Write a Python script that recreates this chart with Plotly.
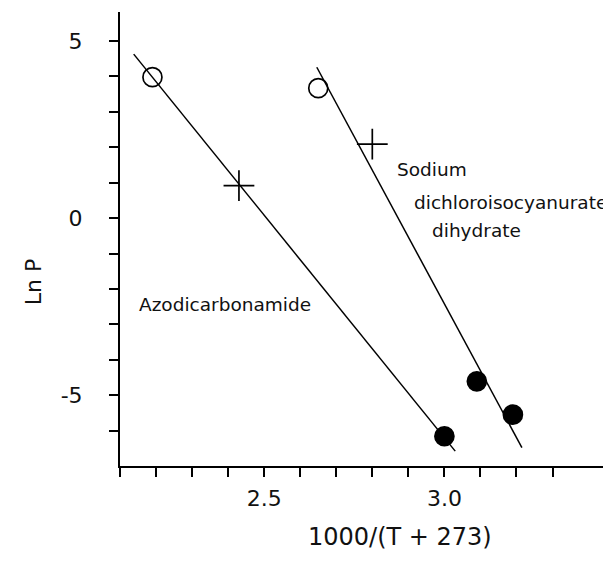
import plotly.graph_objects as go

# ---- data ----
azo_x = [2.19, 2.43, 3.00]
azo_y = [3.98, 0.92, -6.16]
azo_symbols = ["circle-open", "cross-thin-open", "circle"]

sod_x = [2.65, 2.80, 3.09, 3.19]
sod_y = [3.67, 2.09, -4.61, -5.55]
sod_symbols = ["circle-open", "cross-thin-open", "circle", "circle"]

azo_fit_x = [2.138, 3.030]
azo_fit_y = [4.63, -6.58]
sod_fit_x = [2.646, 3.215]
sod_fit_y = [4.26, -6.48]

x_tickvals = [2.1, 2.2, 2.3, 2.4, 2.5, 2.6, 2.7, 2.8, 2.9, 3.0, 3.1, 3.2, 3.3]
x_ticktext = ["", "", "", "", "2.5", "", "", "", "", "3.0", "", "", ""]
y_tickvals = [-6, -5, -4, -3, -2, -1, 0, 1, 2, 3, 4, 5]
y_ticktext = ["", "-5", "", "", "", "", "0", "", "", "", "", "5"]

FONT = "DejaVu Sans"

fig = go.Figure()

for fx, fy in [(azo_fit_x, azo_fit_y), (sod_fit_x, sod_fit_y)]:
    fig.add_trace(go.Scatter(x=fx, y=fy, mode="lines",
                             line=dict(color="black", width=1.5),
                             showlegend=False, hoverinfo="skip"))

for xs, ys, syms in [(azo_x, azo_y, azo_symbols), (sod_x, sod_y, sod_symbols)]:
    sizes = [22 if s.startswith("cross") else 19 for s in syms]
    fig.add_trace(go.Scatter(x=xs, y=ys, mode="markers",
                             marker=dict(symbol=syms, size=sizes, color="black", opacity=1,
                                         line=dict(color="black", width=1.7)),
                             showlegend=False))

ann_font = dict(family=FONT, size=18.5, color="#111")
fig.add_annotation(x=2.147, y=-2.45, text="Azodicarbonamide", showarrow=False,
                   xanchor="left", yanchor="middle", font=ann_font)
fig.add_annotation(x=2.863, y=1.36, text="Sodium", showarrow=False,
                   xanchor="left", yanchor="middle", font=ann_font)
fig.add_annotation(x=2.910, y=0.44, text="dichloroisocyanurate", showarrow=False,
                   xanchor="left", yanchor="middle", font=ann_font)
fig.add_annotation(x=2.960, y=-0.34, text="dihydrate", showarrow=False,
                   xanchor="left", yanchor="middle", font=ann_font)

# axis titles
fig.add_annotation(x=2.877, xref="x", y=-0.156, yref="paper", text="1000/(T + 273)",
                   showarrow=False, xanchor="center", yanchor="middle",
                   font=dict(family=FONT, size=24, color="#111"))
fig.add_annotation(x=-0.180, xref="paper", y=0.405, yref="paper", text="Ln P",
                   textangle=-90, showarrow=False, xanchor="center", yanchor="middle",
                   font=dict(family=FONT, size=22, color="#111"))

axis_common = dict(showline=True, linecolor="black", linewidth=2, showgrid=False,
                   zeroline=False, ticks="outside", ticklen=9, tickwidth=1.5,
                   tickcolor="black", tickfont=dict(family=FONT, size=22, color="#111"))

fig.update_xaxes(range=[2.1, 3.44], tickmode="array", tickvals=x_tickvals,
                 ticktext=x_ticktext, ticklabelstandoff=3, **axis_common)
fig.update_yaxes(range=[-7, 5.82], tickmode="array", tickvals=y_tickvals,
                 ticktext=y_ticktext, ticklabelstandoff=22, **axis_common)

fig.update_layout(width=611, height=553, margin=dict(l=112, r=16, t=4, b=95),
                  paper_bgcolor="white", plot_bgcolor="white",
                  font=dict(family=FONT))

fig.write_html("out.html")
